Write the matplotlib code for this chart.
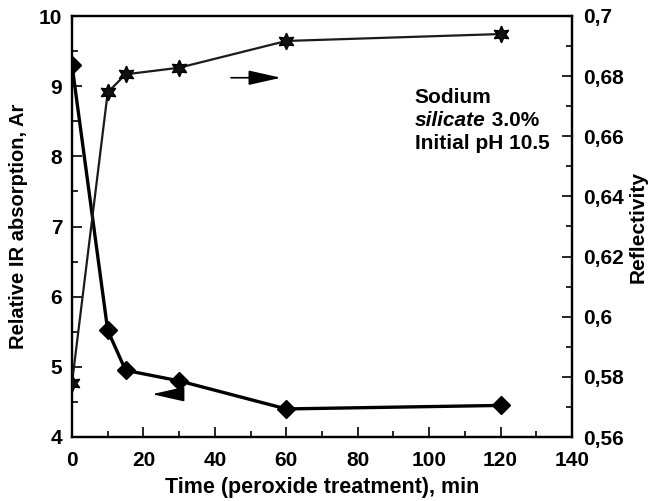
import matplotlib
matplotlib.use("Agg")
import matplotlib.pyplot as plt
from matplotlib.ticker import MultipleLocator, FuncFormatter

plt.rcParams['font.family'] = ['Liberation Sans', 'DejaVu Sans']
plt.rcParams['font.weight'] = 'bold'

time = [0, 10, 15, 30, 60, 120]
absorption = [9.3, 5.52, 4.95, 4.8, 4.4, 4.45]
refl_time = [0, 10, 15, 30, 60, 120]
reflectivity = [0.578, 0.6746, 0.6806, 0.6828, 0.6917, 0.694]

fig = plt.figure(figsize=(6.53, 5.01), dpi=100)
ax = fig.add_axes([72/653, 1 - 437/501, 500/653, 421/501])
ax2 = ax.twinx()

ax.plot(time, absorption, color='black', lw=2.4, marker='D', markersize=9, zorder=3)
ax2.plot(refl_time, reflectivity, color='#1a1a1a', lw=1.6, marker=(6, 1, 0), markersize=12,
         markerfacecolor='#111111', markeredgecolor='black', zorder=3)

ax.set_xlim(0, 140)
ax.set_ylim(4, 10)
ax2.set_ylim(0.56, 0.70)

ax.xaxis.set_major_locator(MultipleLocator(20))
ax.xaxis.set_minor_locator(MultipleLocator(10))
ax.yaxis.set_major_locator(MultipleLocator(1))
ax.yaxis.set_minor_locator(MultipleLocator(0.5))
ax2.yaxis.set_major_locator(MultipleLocator(0.02))
ax2.yaxis.set_minor_locator(MultipleLocator(0.01))
ax2.yaxis.set_major_formatter(FuncFormatter(lambda v, p: ('%g' % round(v, 2)).replace('.', ',')))

for a in (ax, ax2):
    a.tick_params(which='both', direction='in', labelsize=15, width=1.2)
    a.tick_params(which='major', length=7)
    a.tick_params(which='minor', length=4)
    for s in a.spines.values():
        s.set_linewidth(1.6)
ax.tick_params(axis='x', pad=10)
ax.tick_params(axis='y', pad=7)
ax2.tick_params(axis='y', pad=8)
for lab in ax.get_xticklabels() + ax.get_yticklabels() + ax2.get_yticklabels():
    lab.set_fontweight('bold')

ax.set_xlabel('Time (peroxide treatment), min', fontsize=15.5, fontweight='bold', labelpad=5)
ax.set_ylabel('Relative IR absorption, Ar', fontsize=14.5, fontweight='bold', labelpad=8)
ylab2 = ax2.set_ylabel('Reflectivity', fontsize=15, fontweight='bold',
                       va='center', ha='center', rotation_mode='anchor')
ax2.yaxis.set_label_coords(1.132, 0.5)

# direction arrows
ax.annotate('', xy=(58.5, 9.12), xytext=(44.5, 9.12),
            arrowprops=dict(arrowstyle='-|>,head_length=2.0,head_width=0.45',
                            color='black', lw=1.2, mutation_scale=10, shrinkA=0, shrinkB=0))
ax.annotate('', xy=(22.4, 4.61), xytext=(30.2, 4.61),
            arrowprops=dict(arrowstyle='-|>,head_length=2.0,head_width=0.45',
                            color='black', lw=1.2, mutation_scale=10, shrinkA=0, shrinkB=0))

ax.text(96, 8.76, 'Sodium', fontsize=15, fontweight='bold', va='baseline')
t = ax.text(96, 8.43, 'silicate', fontsize=15, fontweight='bold', style='italic', va='baseline')
ax.annotate(' 3.0%', xy=(1, 0), xycoords=t, fontsize=15, fontweight='bold', va='bottom')
ax.text(96, 8.10, 'Initial pH 10.5', fontsize=15, fontweight='bold', va='baseline')

fig.savefig('out.png', dpi=100)
